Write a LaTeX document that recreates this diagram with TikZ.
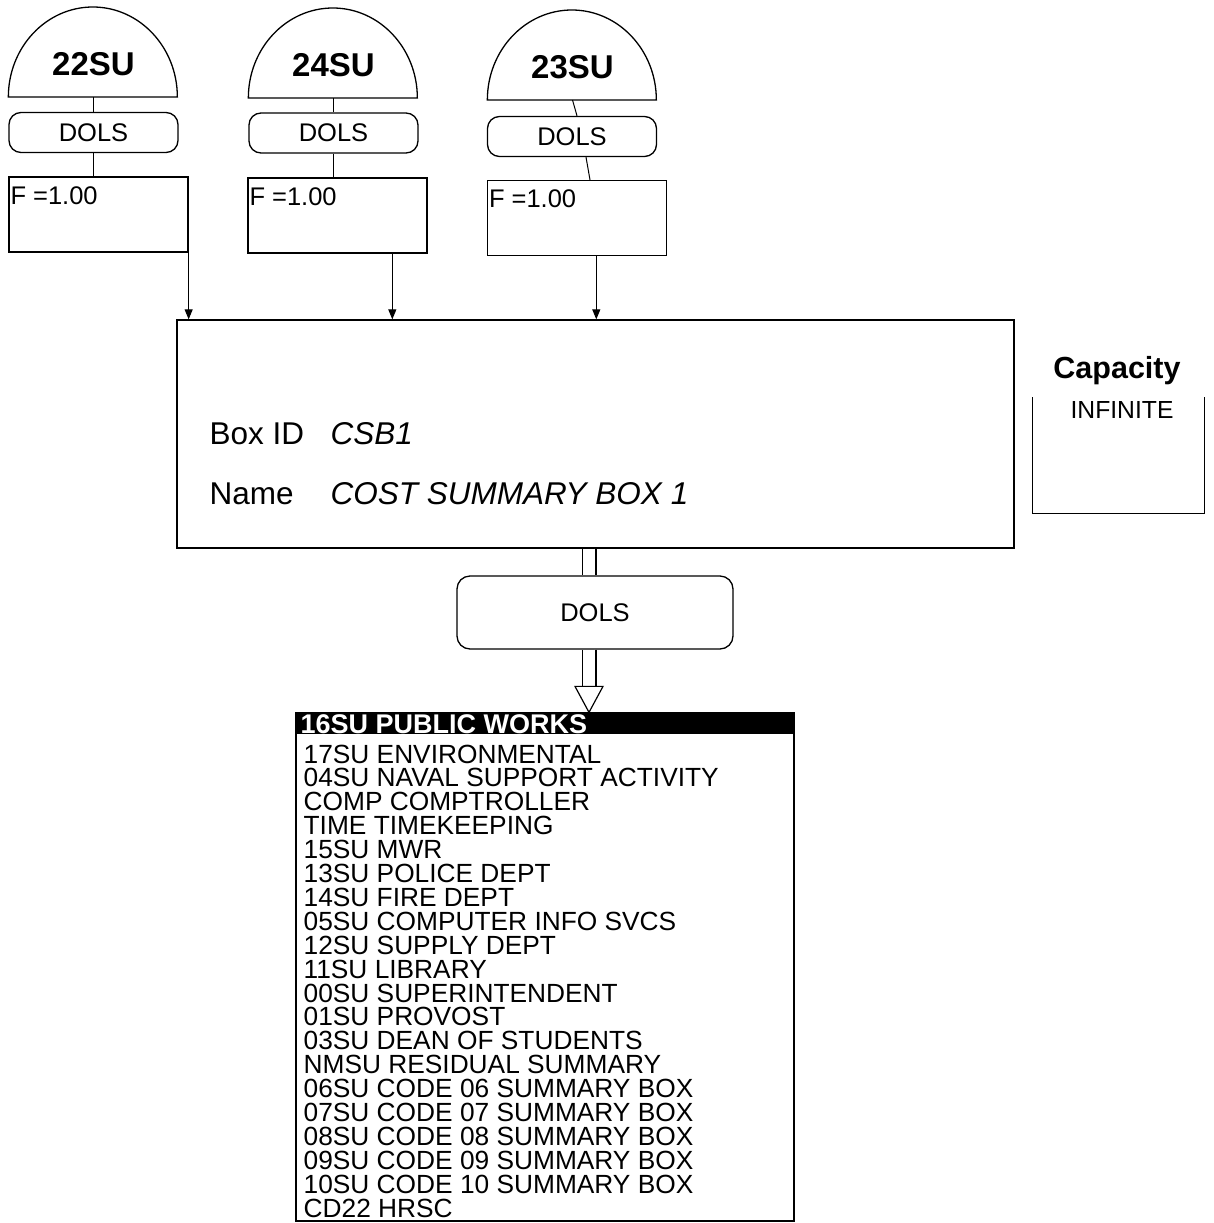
\documentclass[tikz,border=0pt]{standalone}
\usepackage{fontspec}
\setmainfont{Liberation Sans}
\usetikzlibrary{arrows.meta,calc}
\begin{document}
\begin{tikzpicture}[x=1pt,y=-1pt,line width=1.3pt,
  semishape/.style={minimum width=169pt,minimum height=90pt,inner sep=0pt,anchor=south},
  semitext/.style={inner sep=0pt,font=\fontsize{33}{38}\selectfont\bfseries},
  dolsbox/.style={draw,rounded corners=12pt,minimum width=169pt,minimum height=40pt,inner sep=0pt,font=\fontsize{25.5}{30}\selectfont},
  fbox/.style={draw,minimum width=179pt,minimum height=75pt,inner sep=0pt},
  ftext/.style={anchor=base west,inner sep=0pt,font=\fontsize{25.5}{30}\selectfont},
  arr/.style={-{Triangle[length=10pt,width=8pt]},line width=1pt},
  lbl/.style={anchor=base west,inner sep=0pt,font=\fontsize{31.5}{36}\selectfont},
  ilbl/.style={lbl,font=\fontsize{31.5}{36}\selectfont\itshape},
  dbl/.style={double distance=12.6pt,line width=1.2pt},
  litem/.style={anchor=base west,inner sep=0pt,font=\fontsize{26.3}{24}\selectfont}]
\useasboundingbox (0,0) rectangle (1214,1223);

% source semicircles
\foreach \n/\x/\y/\t in {1/93.5/97/22SU,2/333.5/98/24SU,3/572.5/100/23SU}{
  \node[semishape] (s\n) at (\x,\y) {};
  \draw (s\n.south west) arc[start angle=180,end angle=0,x radius=84.5pt,y radius=90pt] -- cycle;
  \node[semitext] (s\n t) at (\x,{\y-33}) {\t};
}

% DOLS boxes
\node[dolsbox] (d1) at (93.5,132.5) {DOLS};
\node[dolsbox] (d2) at (333.5,133) {DOLS};
\node[dolsbox] (d3) at (572,136.5) {DOLS};

% F boxes
\node[fbox] (f1) at (98.5,214.5) {};
\node[fbox] (f2) at (337.5,215.5) {};
\node[fbox] (f3) at (577,218) {};
\foreach \n in {1,2,3}{
  \node[ftext] (f\n t) at ($(f\n.north west)+(1.5,28)$) {F =1.00};
}

% connectors source -> DOLS -> F
\draw[line width=1pt] (s1.south) -- (d1.north);
\draw[line width=1pt] (d1.south) -- (d1.south |- f1.north);
\draw[line width=1pt] (s2.south) -- (d2.north);
\draw[line width=1pt] (d2.south) -- (d2.south |- f2.north);
\draw[line width=1pt] (s3.south) -- ($(d3.north)+(5,0)$);
\draw[line width=1pt] ($(d3.south)+(14,0)$) -- ($(f3.north)+(13,0)$);

% main box
\node[draw,minimum width=837pt,minimum height=228pt,inner sep=0pt] (main) at (595.5,434) {};
\node[lbl] (bid) at (209,444) {Box ID};
\node[ilbl] (bidv) at (330,444) {CSB1};
\node[lbl] (bname) at (209,504) {Name};
\node[ilbl] (bnamev) at (330,504) {COST SUMMARY BOX 1};

% arrows into main box
\coordinate (f2o) at ($(f2.south west)!0.804!(f2.south east)$);
\coordinate (f3o) at ($(f3.south west)!0.607!(f3.south east)$);
\draw[arr] (f1.south east) -- (f1.south east |- main.north);
\draw[arr] (f2o) -- (f2o |- main.north);
\draw[arr] (f3o) -- (f3o |- main.north);

% capacity
\node[inner sep=0pt,font=\fontsize{30.5}{36}\selectfont\bfseries] (cap) at (1117,371) {Capacity};
\node[minimum width=171pt,minimum height=115pt,inner sep=0pt] (capbox) at (1118.5,455.5) {};
\draw (capbox.north west) -- (capbox.south west) -- (capbox.south east) -- (capbox.north east);
\node[inner sep=0pt,font=\fontsize{24.7}{30}\selectfont] (capv) at (1122,410) {INFINITE};

% output DOLS
\node[dolsbox,rounded corners=13pt,minimum width=276pt,minimum height=73pt] (bd) at (595,612.5) {DOLS};

% list box
\node[draw,minimum width=498pt,minimum height=508pt,inner sep=0pt] (list) at (545,967) {};
\fill (list.north west) rectangle ($(list.north east)+(0,22)$);
\node[litem,text=white,font=\fontsize{27}{24}\selectfont\bfseries] (hdr) at (300,733) {16SU PUBLIC WORKS};
\foreach \t [count=\i] in {17SU ENVIRONMENTAL,04SU NAVAL SUPPORT ACTIVITY,COMP COMPTROLLER,TIME TIMEKEEPING,15SU MWR,13SU POLICE DEPT,14SU FIRE DEPT,05SU COMPUTER INFO SVCS,12SU SUPPLY DEPT,11SU LIBRARY,00SU SUPERINTENDENT,01SU PROVOST,03SU DEAN OF STUDENTS,NMSU RESIDUAL SUMMARY,06SU CODE 06 SUMMARY BOX,07SU CODE 07 SUMMARY BOX,08SU CODE 08 SUMMARY BOX,09SU CODE 09 SUMMARY BOX,10SU CODE 10 SUMMARY BOX,CD22 HRSC}{
  \node[litem] (l\i) at (303,{763+23.9*(\i-1)}) {\t};
}

% wide arrows
\coordinate (sh1) at ($(main.south)+(-6.5,0)$);
\draw[dbl] (sh1) -- (sh1 |- bd.north);
\coordinate (sh2) at ($(bd.south)+(-6,0)$);
\coordinate (tip) at (sh2 |- list.north);
\coordinate (tb) at ($(tip)+(0,-26)$);
\draw[dbl] (sh2) -- (tb);
\draw[fill=white,line width=1.2pt,line join=miter] ($(tb)+(-14,0)$) -- ($(tb)+(14,0)$) -- (tip) -- cycle;
\end{tikzpicture}
\end{document}
